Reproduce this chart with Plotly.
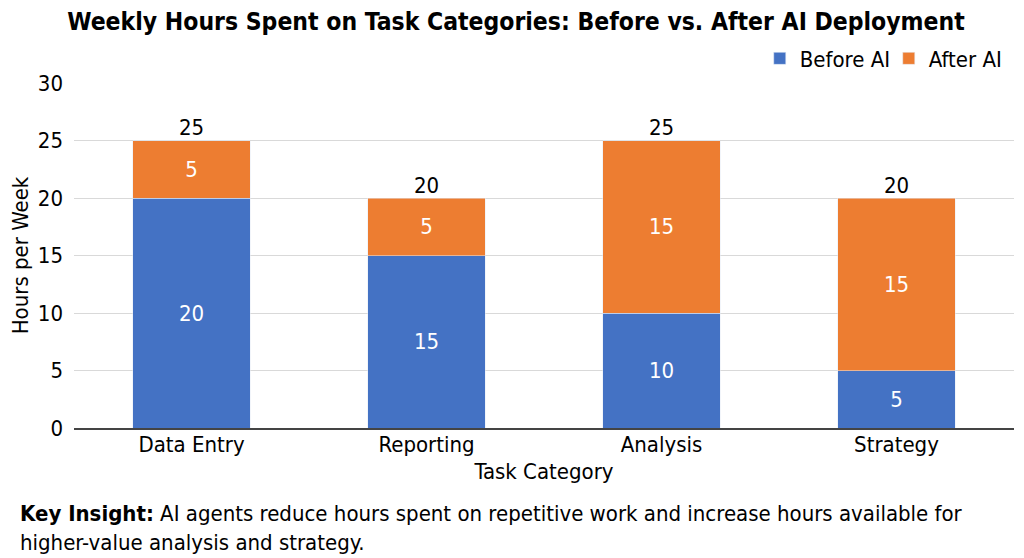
import plotly.graph_objects as go

categories = ["Data Entry", "Reporting", "Analysis", "Strategy"]
before_ai = [20, 15, 10, 5]
after_ai = [5, 5, 15, 15]
totals = [b + a for b, a in zip(before_ai, after_ai)]
y_ticks = [0, 5, 10, 15, 20, 25, 30]

FONT = "DejaVu Sans Condensed, DejaVu Sans, sans-serif"
BLUE = "#4472C4"
ORANGE = "#ED7D31"
FS = 22

fig = go.Figure()
fig.add_trace(go.Bar(
    x=categories, y=before_ai, name="Before AI", marker_color=BLUE,
    text=[str(v) for v in before_ai], textposition="inside", insidetextanchor="middle",
    textfont=dict(color="white", size=FS, family=FONT),
))
fig.add_trace(go.Bar(
    x=categories, y=after_ai, name="After AI", marker_color=ORANGE,
    text=[str(v) for v in after_ai], textposition="inside", insidetextanchor="middle",
    textfont=dict(color="white", size=FS, family=FONT),
))
fig.add_trace(go.Scatter(
    x=categories, y=totals, mode="text", text=[str(v) for v in totals],
    textposition="top center", textfont=dict(color="black", size=FS, family=FONT),
    showlegend=False, hoverinfo="skip",
))

fig.update_layout(
    width=1016, height=550,
    barmode="stack", bargap=0.5,
    plot_bgcolor="white", paper_bgcolor="white",
    font=dict(family=FONT, size=FS, color="black"),
    margin=dict(l=66, r=10, t=75, b=130, autoexpand=False),
    title=dict(
        text="<b>Weekly Hours Spent on Task Categories: Before vs. After AI Deployment</b>",
        x=0.5, xanchor="center", y=0.976, yanchor="middle",
        font=dict(size=24.5, family=FONT, color="black"),
    ),
    legend=dict(
        orientation="h", x=1.004, xanchor="right", y=1.01, yanchor="bottom",
        font=dict(size=FS, family=FONT), traceorder="normal",
        bgcolor="rgba(0,0,0,0)", entrywidth=84, entrywidthmode="pixels",
    ),
    xaxis=dict(
        title=dict(text="Task Category", font=dict(size=FS), standoff=7),
        showline=True, linecolor="#444", linewidth=1.5,
        tickfont=dict(size=FS), ticks="", automargin=False,
        ticklabelstandoff=-4,
    ),
    yaxis=dict(
        title=dict(text="Hours per Week", font=dict(size=FS), standoff=6),
        range=[0, 30], tickvals=y_ticks, showgrid=True, gridcolor="#D9D9D9",
        zeroline=False, tickfont=dict(size=FS), ticks="", automargin=False,
        ticklabelstandoff=10,
    ),
    annotations=[dict(
        text="<b>Key Insight:</b> AI agents reduce hours spent on repetitive work and increase hours available for<br>higher-value analysis and strategy.",
        xref="paper", yref="paper", x=-0.0596, y=-0.207, xanchor="left", yanchor="top",
        align="left", showarrow=False, font=dict(size=FS, family=FONT, color="black"),
    )],
)

fig.write_html("out.html")
